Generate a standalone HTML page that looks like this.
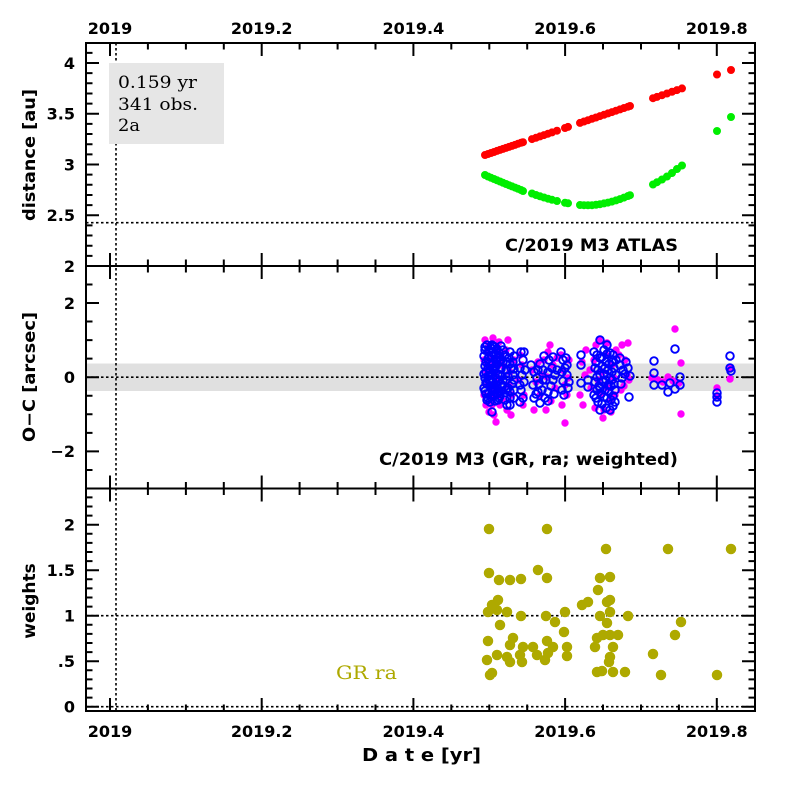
<!DOCTYPE html>
<html><head><meta charset="utf-8"><style>
html,body{margin:0;padding:0;background:#fff;}
svg{display:block;}
.tl{font-family:"DejaVu Sans","Liberation Sans",sans-serif;font-weight:bold;font-size:16px;fill:#000;}
.yl{font-family:"DejaVu Sans","Liberation Sans",sans-serif;font-weight:bold;font-size:17px;fill:#000;}
.sf{font-family:"DejaVu Serif","Liberation Serif",serif;font-size:17px;fill:#000;}
</style></head><body>
<svg width="797" height="797" viewBox="0 0 797 797" xmlns="http://www.w3.org/2000/svg">
<rect width="797" height="797" fill="#fff"/>
<rect x="86" y="363.5" width="669" height="27.5" fill="#e0e0e0"/>
<g stroke="#000" stroke-width="1.6" stroke-dasharray="2.5 2.5" fill="none">
<line x1="116" y1="43" x2="116" y2="711"/>
<line x1="86" y1="222.7" x2="755" y2="222.7"/>
<line x1="86" y1="377.2" x2="755" y2="377.2"/>
<line x1="86" y1="615.7" x2="755" y2="615.7"/>
<line x1="86" y1="706.7" x2="755" y2="706.7"/>
</g>
<rect x="109" y="63" width="115" height="81" fill="#e6e6e6"/>
<text class="sf" x="118" y="88" textLength="79" lengthAdjust="spacingAndGlyphs">0.159 yr</text>
<text class="sf" x="118" y="110" textLength="80" lengthAdjust="spacingAndGlyphs">341 obs.</text>
<text class="sf" x="118" y="131" textLength="22" lengthAdjust="spacingAndGlyphs">2a</text>

<path fill="none" stroke="#00ee00" stroke-width="8" stroke-linecap="round" d="M485 175h0M488 176.5h0M491 177.8h0M494 179h0M497 180.3h0M500 181.5h0M503 182.8h0M506 184h0M509 185.2h0M512 186.4h0M515 187.6h0M518 188.8h0M521 190h0M523 191h0M532 193.5h0M536 195h0M540 196.3h0M544 197.5h0M548 198.7h0M552 199.8h0M557 201h0M565 202.8h0M568 203.3h0M580 205h0M584 205.2h0M588 205.3h0M592 205.2h0M596 204.8h0M600 204.2h0M604 203.4h0M608 202.6h0M612 201.6h0M616 200.4h0M620 199.1h0M624 197.6h0M628 196h0M630 195.2h0M653 184.5h0M657 182.2h0M662 179.5h0M667 176.5h0M672 173h0M677 169h0M682 165.5h0M717 131h0M731 117h0"/>
<path fill="none" stroke="#ff0000" stroke-width="8" stroke-linecap="round" d="M485 155h0M488 154h0M491 153h0M494 152h0M497 150.9h0M500 149.9h0M503 148.9h0M506 147.9h0M509 146.9h0M512 145.9h0M515 144.9h0M518 143.8h0M521 142.8h0M523 142.2h0M532 139.1h0M536 137.8h0M540 136.4h0M544 135.1h0M548 133.7h0M552 132.4h0M557 130.7h0M565 128h0M568 126.9h0M580 122.9h0M584 121.5h0M588 120.2h0M592 118.8h0M596 117.5h0M600 116.1h0M604 114.8h0M608 113.4h0M612 112.1h0M616 110.7h0M620 109.4h0M624 108h0M628 106.7h0M630 106h0M653 98.2h0M657 96.9h0M662 95.2h0M667 93.5h0M672 91.8h0M677 90.1h0M682 88.4h0M717 74.5h0M731 70h0"/>

<path fill="none" stroke="#ff00ff" stroke-width="7.4" stroke-linecap="round" d="M485 340h0M487 352h0M489 345h0M491 360h0M493 338h0M486 370h0M488 385h0M490 398h0M492 405h0M494 415h0M496 422h0M498 395h0M500 380h0M502 365h0M484 395h0M486 405h0M489 412h0M497 350h0M499 342h0M501 355h0M503 390h0M495 375h0M487 365h0M491 390h0M500 405h0M484 360h0M496 362h0M502 400h0M506 350h0M508 340h0M510 372h0M512 395h0M514 360h0M507 410h0M511 415h0M509 385h0M519 380h0M522 365h0M524 395h0M520 355h0M523 405h0M532 370h0M536 382h0M540 395h0M544 360h0M548 352h0M551 401h0M555 388h0M538 362h0M546 410h0M534 410h0M553 365h0M557 358h0M542 375h0M550 345h0M547 377h0M561 355h0M563 370h0M565 385h0M567 395h0M569 360h0M565 423h0M562 405h0M568 378h0M582 362h0M585 375h0M590 370h0M580 395h0M583 405h0M586 350h0M591 388h0M594 360h0M596 345h0M598 380h0M600 395h0M602 372h0M604 410h0M606 355h0M608 388h0M610 400h0M612 365h0M614 378h0M616 350h0M595 408h0M603 418h0M611 412h0M599 340h0M607 343h0M615 395h0M619 355h0M622 345h0M625 360h0M627 375h0M629 380h0M621 390h0M624 386h0M628 343h0M675 329h0M681 363h0M681 414h0M652 378h0M658 380h0M663 382h0M668 377h0M673 381h0M679 383h0M717 388h0M717 396h0M730 379h0M731 368h0"/>
<g fill="none" stroke="#0000ff" stroke-width="1.9">
<circle cx="485" cy="350" r="3.8"/><circle cx="487" cy="345" r="3.8"/><circle cx="489" cy="356" r="3.8"/><circle cx="491" cy="348" r="3.8"/><circle cx="493" cy="352" r="3.8"/><circle cx="495" cy="347" r="3.8"/><circle cx="497" cy="358" r="3.8"/><circle cx="499" cy="353" r="3.8"/><circle cx="501" cy="360" r="3.8"/><circle cx="486" cy="362" r="3.8"/><circle cx="488" cy="368" r="3.8"/><circle cx="490" cy="372" r="3.8"/><circle cx="492" cy="364" r="3.8"/><circle cx="494" cy="370" r="3.8"/><circle cx="496" cy="366" r="3.8"/><circle cx="498" cy="374" r="3.8"/><circle cx="500" cy="368" r="3.8"/><circle cx="502" cy="376" r="3.8"/><circle cx="485" cy="378" r="3.8"/><circle cx="487" cy="384" r="3.8"/><circle cx="489" cy="380" r="3.8"/><circle cx="491" cy="388" r="3.8"/><circle cx="493" cy="382" r="3.8"/><circle cx="495" cy="390" r="3.8"/><circle cx="497" cy="386" r="3.8"/><circle cx="499" cy="392" r="3.8"/><circle cx="501" cy="384" r="3.8"/><circle cx="486" cy="394" r="3.8"/><circle cx="488" cy="398" r="3.8"/><circle cx="490" cy="402" r="3.8"/><circle cx="494" cy="396" r="3.8"/><circle cx="498" cy="400" r="3.8"/><circle cx="492" cy="345" r="3.8"/><circle cx="492" cy="412" r="3.8"/><circle cx="496" cy="355" r="3.8"/><circle cx="484" cy="388" r="3.8"/><circle cx="503" cy="350" r="3.8"/><circle cx="500" cy="396" r="3.8"/><circle cx="486" cy="372" r="3.8"/><circle cx="490" cy="386" r="3.8"/>
<circle cx="485" cy="347" r="3.8"/><circle cx="489" cy="350" r="3.8"/><circle cx="493" cy="346" r="3.8"/><circle cx="497" cy="349" r="3.8"/><circle cx="501" cy="346" r="3.8"/>
<circle cx="484" cy="356" r="3.8"/><circle cx="488" cy="359" r="3.8"/><circle cx="492" cy="356" r="3.8"/><circle cx="496" cy="360" r="3.8"/><circle cx="500" cy="357" r="3.8"/><circle cx="503" cy="362" r="3.8"/>
<circle cx="485" cy="366" r="3.8"/><circle cx="489" cy="364" r="3.8"/><circle cx="493" cy="368" r="3.8"/><circle cx="497" cy="364" r="3.8"/><circle cx="501" cy="369" r="3.8"/>
<circle cx="484" cy="374" r="3.8"/><circle cx="488" cy="376" r="3.8"/><circle cx="492" cy="374" r="3.8"/><circle cx="496" cy="378" r="3.8"/><circle cx="500" cy="375" r="3.8"/><circle cx="503" cy="380" r="3.8"/>
<circle cx="486" cy="383" r="3.8"/><circle cx="490" cy="381" r="3.8"/><circle cx="494" cy="385" r="3.8"/><circle cx="498" cy="382" r="3.8"/><circle cx="502" cy="387" r="3.8"/>
<circle cx="485" cy="391" r="3.8"/><circle cx="489" cy="393" r="3.8"/><circle cx="493" cy="390" r="3.8"/><circle cx="497" cy="394" r="3.8"/><circle cx="501" cy="391" r="3.8"/>
<circle cx="487" cy="400" r="3.8"/><circle cx="491" cy="397" r="3.8"/><circle cx="495" cy="401" r="3.8"/><circle cx="499" cy="398" r="3.8"/>
<circle cx="505" cy="355" r="3.8"/><circle cx="507" cy="362" r="3.8"/><circle cx="509" cy="358" r="3.8"/><circle cx="511" cy="368" r="3.8"/><circle cx="513" cy="375" r="3.8"/><circle cx="506" cy="380" r="3.8"/><circle cx="508" cy="388" r="3.8"/><circle cx="510" cy="392" r="3.8"/><circle cx="512" cy="384" r="3.8"/><circle cx="514" cy="398" r="3.8"/><circle cx="505" cy="400" r="3.8"/><circle cx="507" cy="405" r="3.8"/><circle cx="510" cy="405" r="3.8"/><circle cx="513" cy="362" r="3.8"/><circle cx="506" cy="370" r="3.8"/>
<circle cx="510" cy="352" r="3.8"/><circle cx="514" cy="356" r="3.8"/><circle cx="506" cy="364" r="3.8"/><circle cx="510" cy="364" r="3.8"/><circle cx="514" cy="369" r="3.8"/><circle cx="508" cy="376" r="3.8"/><circle cx="514" cy="380" r="3.8"/><circle cx="506" cy="390" r="3.8"/><circle cx="514" cy="390" r="3.8"/><circle cx="510" cy="398" r="3.8"/>
<circle cx="521" cy="352" r="3.8"/><circle cx="523" cy="360" r="3.8"/><circle cx="520" cy="368" r="3.8"/><circle cx="522" cy="375" r="3.8"/><circle cx="524" cy="382" r="3.8"/><circle cx="521" cy="390" r="3.8"/><circle cx="523" cy="398" r="3.8"/><circle cx="520" cy="402" r="3.8"/><circle cx="525" cy="370" r="3.8"/><circle cx="524" cy="352" r="3.8"/><circle cx="520" cy="385" r="3.8"/>
<circle cx="531" cy="365" r="3.8"/><circle cx="534" cy="372" r="3.8"/><circle cx="537" cy="378" r="3.8"/><circle cx="540" cy="364" r="3.8"/><circle cx="543" cy="370" r="3.8"/><circle cx="546" cy="380" r="3.8"/><circle cx="549" cy="360" r="3.8"/><circle cx="552" cy="368" r="3.8"/><circle cx="555" cy="375" r="3.8"/><circle cx="533" cy="385" r="3.8"/><circle cx="536" cy="394" r="3.8"/><circle cx="539" cy="384" r="3.8"/><circle cx="542" cy="390" r="3.8"/><circle cx="545" cy="398" r="3.8"/><circle cx="548" cy="392" r="3.8"/><circle cx="551" cy="386" r="3.8"/><circle cx="554" cy="394" r="3.8"/><circle cx="540" cy="403" r="3.8"/><circle cx="544" cy="356" r="3.8"/><circle cx="553" cy="357" r="3.8"/><circle cx="557" cy="370" r="3.8"/><circle cx="534" cy="398" r="3.8"/>
<circle cx="538" cy="370" r="3.8"/><circle cx="548" cy="372" r="3.8"/><circle cx="543" cy="380" r="3.8"/><circle cx="553" cy="380" r="3.8"/><circle cx="538" cy="392" r="3.8"/><circle cx="548" cy="401" r="3.8"/>
<circle cx="561" cy="352" r="3.8"/><circle cx="563" cy="360" r="3.8"/><circle cx="565" cy="368" r="3.8"/><circle cx="567" cy="375" r="3.8"/><circle cx="569" cy="382" r="3.8"/><circle cx="562" cy="390" r="3.8"/><circle cx="564" cy="395" r="3.8"/><circle cx="566" cy="358" r="3.8"/><circle cx="568" cy="388" r="3.8"/><circle cx="562" cy="372" r="3.8"/><circle cx="567" cy="365" r="3.8"/><circle cx="563" cy="381" r="3.8"/>
<circle cx="581" cy="355" r="3.8"/><circle cx="581" cy="365" r="3.8"/><circle cx="581" cy="383" r="3.8"/><circle cx="588" cy="380" r="3.8"/><circle cx="588" cy="387" r="3.8"/>
<circle cx="594" cy="352" r="3.8"/><circle cx="596" cy="362" r="3.8"/><circle cx="598" cy="370" r="3.8"/><circle cx="600" cy="358" r="3.8"/><circle cx="602" cy="366" r="3.8"/><circle cx="604" cy="374" r="3.8"/><circle cx="606" cy="362" r="3.8"/><circle cx="608" cy="370" r="3.8"/><circle cx="610" cy="378" r="3.8"/><circle cx="612" cy="372" r="3.8"/><circle cx="614" cy="384" r="3.8"/><circle cx="616" cy="360" r="3.8"/><circle cx="595" cy="382" r="3.8"/><circle cx="597" cy="390" r="3.8"/><circle cx="599" cy="386" r="3.8"/><circle cx="601" cy="394" r="3.8"/><circle cx="603" cy="382" r="3.8"/><circle cx="605" cy="390" r="3.8"/><circle cx="607" cy="398" r="3.8"/><circle cx="609" cy="392" r="3.8"/><circle cx="611" cy="386" r="3.8"/><circle cx="613" cy="396" r="3.8"/><circle cx="615" cy="402" r="3.8"/><circle cx="598" cy="402" r="3.8"/><circle cx="602" cy="404" r="3.8"/><circle cx="606" cy="408" r="3.8"/><circle cx="610" cy="410" r="3.8"/><circle cx="600" cy="340" r="3.8"/><circle cx="607" cy="345" r="3.8"/><circle cx="610" cy="353" r="3.8"/><circle cx="604" cy="350" r="3.8"/><circle cx="613" cy="355" r="3.8"/><circle cx="616" cy="375" r="3.8"/><circle cx="594" cy="395" r="3.8"/>
<circle cx="597" cy="355" r="3.8"/><circle cx="602" cy="357" r="3.8"/><circle cx="607" cy="354" r="3.8"/><circle cx="612" cy="362" r="3.8"/><circle cx="595" cy="368" r="3.8"/><circle cx="600" cy="375" r="3.8"/><circle cx="605" cy="368" r="3.8"/><circle cx="609" cy="364" r="3.8"/><circle cx="614" cy="368" r="3.8"/><circle cx="597" cy="377" r="3.8"/><circle cx="606" cy="380" r="3.8"/><circle cx="612" cy="380" r="3.8"/><circle cx="600" cy="388" r="3.8"/><circle cx="608" cy="385" r="3.8"/><circle cx="615" cy="390" r="3.8"/><circle cx="596" cy="398" r="3.8"/><circle cx="604" cy="397" r="3.8"/><circle cx="611" cy="400" r="3.8"/><circle cx="600" cy="410" r="3.8"/><circle cx="613" cy="406" r="3.8"/>
<circle cx="620" cy="365" r="3.8"/><circle cx="623" cy="370" r="3.8"/><circle cx="626" cy="362" r="3.8"/><circle cx="628" cy="368" r="3.8"/><circle cx="630" cy="376" r="3.8"/><circle cx="622" cy="378" r="3.8"/><circle cx="629" cy="397" r="3.8"/><circle cx="620" cy="358" r="3.8"/><circle cx="625" cy="374" r="3.8"/><circle cx="621" cy="384" r="3.8"/>
<circle cx="654" cy="361" r="3.8"/><circle cx="654" cy="373" r="3.8"/><circle cx="654" cy="385" r="3.8"/><circle cx="662" cy="385" r="3.8"/><circle cx="668" cy="392" r="3.8"/><circle cx="675" cy="349" r="3.8"/><circle cx="680" cy="377" r="3.8"/><circle cx="680" cy="385" r="3.8"/><circle cx="675" cy="389" r="3.8"/><circle cx="670" cy="383" r="3.8"/>
<circle cx="717" cy="393" r="3.8"/><circle cx="717" cy="397" r="3.8"/><circle cx="717" cy="402" r="3.8"/><circle cx="730" cy="356" r="3.8"/><circle cx="730" cy="368" r="3.8"/><circle cx="731" cy="371" r="3.8"/>
</g>

<path fill="none" stroke="#aea900" stroke-width="10.5" stroke-linecap="round" d="M489 529h0M547 529h0M606 549h0M668 549h0M731 549h0M489 573h0M499 580h0M510 580h0M521 579h0M538 570h0M547 578h0M598 590h0M600 578h0M610 577h0M498 600h0M492 605h0M488 612h0M497 610h0M507 612h0M521 616h0M546 616h0M555 622h0M565 612h0M582 605h0M588 602h0M607 602h0M610 600h0M600 616h0M610 612h0M607 623h0M628 616h0M681 622h0M675 635h0M500 625h0M488 641h0M513 638h0M510 645h0M523 647h0M533 647h0M537 655h0M547 641h0M553 647h0M564 632h0M567 647h0M567 656h0M487 660h0M497 655h0M507 657h0M510 662h0M520 655h0M522 662h0M545 660h0M548 653h0M597 638h0M595 647h0M603 635h0M610 635h0M618 635h0M613 647h0M610 657h0M609 662h0M653 654h0M490 675h0M492 673h0M597 672h0M602 671h0M613 672h0M625 672h0M661 675h0M717 675h0"/>

<g stroke="#000" stroke-width="2" fill="none">
<rect x="86" y="43" width="669" height="668"/>
<line x1="86" y1="266" x2="755" y2="266"/>
<line x1="86" y1="488.5" x2="755" y2="488.5"/>
</g>
<g stroke="#000" stroke-width="2" fill="none">
<path d="M110 43v13M147.9 43v6.5M185.9 43v6.5M223.8 43v6.5M261.7 43v13M299.6 43v6.5M337.6 43v6.5M375.5 43v6.5M413.4 43v13M451.3 43v6.5M489.3 43v6.5M527.2 43v6.5M565.1 43v13M603 43v6.5M641 43v6.5M678.9 43v6.5M716.8 43v13"/>
<path d="M110 266v-13M147.9 266v-6.5M185.9 266v-6.5M223.8 266v-6.5M261.7 266v-13M299.6 266v-6.5M337.6 266v-6.5M375.5 266v-6.5M413.4 266v-13M451.3 266v-6.5M489.3 266v-6.5M527.2 266v-6.5M565.1 266v-13M603 266v-6.5M641 266v-6.5M678.9 266v-6.5M716.8 266v-13"/>
<path d="M110 266v13M147.9 266v6.5M185.9 266v6.5M223.8 266v6.5M261.7 266v13M299.6 266v6.5M337.6 266v6.5M375.5 266v6.5M413.4 266v13M451.3 266v6.5M489.3 266v6.5M527.2 266v6.5M565.1 266v13M603 266v6.5M641 266v6.5M678.9 266v6.5M716.8 266v13"/>
<path d="M110 488.5v-13M147.9 488.5v-6.5M185.9 488.5v-6.5M223.8 488.5v-6.5M261.7 488.5v-13M299.6 488.5v-6.5M337.6 488.5v-6.5M375.5 488.5v-6.5M413.4 488.5v-13M451.3 488.5v-6.5M489.3 488.5v-6.5M527.2 488.5v-6.5M565.1 488.5v-13M603 488.5v-6.5M641 488.5v-6.5M678.9 488.5v-6.5M716.8 488.5v-13"/>
<path d="M110 488.5v13M147.9 488.5v6.5M185.9 488.5v6.5M223.8 488.5v6.5M261.7 488.5v13M299.6 488.5v6.5M337.6 488.5v6.5M375.5 488.5v6.5M413.4 488.5v13M451.3 488.5v6.5M489.3 488.5v6.5M527.2 488.5v6.5M565.1 488.5v13M603 488.5v6.5M641 488.5v6.5M678.9 488.5v6.5M716.8 488.5v13"/>
<path d="M110 711v-13M147.9 711v-6.5M185.9 711v-6.5M223.8 711v-6.5M261.7 711v-13M299.6 711v-6.5M337.6 711v-6.5M375.5 711v-6.5M413.4 711v-13M451.3 711v-6.5M489.3 711v-6.5M527.2 711v-6.5M565.1 711v-13M603 711v-6.5M641 711v-6.5M678.9 711v-6.5M716.8 711v-13"/>
</g>
<g stroke="#000" stroke-width="2" fill="none">
<path d="M86 255.85h6.5M86 245.7h6.5M86 235.55h6.5M86 225.4h6.5M86 215.25h13M86 205.1h6.5M86 194.95h6.5M86 184.8h6.5M86 174.65h6.5M86 164.5h13M86 154.35h6.5M86 144.2h6.5M86 134.05h6.5M86 123.9h6.5M86 113.75h13M86 103.6h6.5M86 93.45h6.5M86 83.3h6.5M86 73.15h6.5M86 63h13M86 52.85h6.5"/>
<path d="M755 255.85h-6.5M755 245.7h-6.5M755 235.55h-6.5M755 225.4h-6.5M755 215.25h-13M755 205.1h-6.5M755 194.95h-6.5M755 184.8h-6.5M755 174.65h-6.5M755 164.5h-13M755 154.35h-6.5M755 144.2h-6.5M755 134.05h-6.5M755 123.9h-6.5M755 113.75h-13M755 103.6h-6.5M755 93.45h-6.5M755 83.3h-6.5M755 73.15h-6.5M755 63h-13M755 52.85h-6.5"/>
<path d="M86 284.45h6.5M86 303h13M86 321.55h6.5M86 340.1h6.5M86 358.65h6.5M86 377.2h13M86 395.75h6.5M86 414.3h6.5M86 432.85h6.5M86 451.4h13M86 469.95h6.5"/>
<path d="M755 284.45h-6.5M755 303h-13M755 321.55h-6.5M755 340.1h-6.5M755 358.65h-6.5M755 377.2h-13M755 395.75h-6.5M755 414.3h-6.5M755 432.85h-6.5M755 451.4h-13M755 469.95h-6.5"/>
<path d="M86 706.7h13M86 697.6h6.5M86 688.5h6.5M86 679.4h6.5M86 670.3h6.5M86 661.2h13M86 652.1h6.5M86 643h6.5M86 633.9h6.5M86 624.8h6.5M86 615.7h13M86 606.6h6.5M86 597.5h6.5M86 588.4h6.5M86 579.3h6.5M86 570.2h13M86 561.1h6.5M86 552h6.5M86 542.9h6.5M86 533.8h6.5M86 524.7h13M86 515.6h6.5M86 506.5h6.5M86 497.4h6.5"/>
<path d="M755 706.7h-13M755 697.6h-6.5M755 688.5h-6.5M755 679.4h-6.5M755 670.3h-6.5M755 661.2h-13M755 652.1h-6.5M755 643h-6.5M755 633.9h-6.5M755 624.8h-6.5M755 615.7h-13M755 606.6h-6.5M755 597.5h-6.5M755 588.4h-6.5M755 579.3h-6.5M755 570.2h-13M755 561.1h-6.5M755 552h-6.5M755 542.9h-6.5M755 533.8h-6.5M755 524.7h-13M755 515.6h-6.5M755 506.5h-6.5M755 497.4h-6.5"/>
</g>

<g class="tl" text-anchor="middle">
<text x="110" y="34">2019</text><text x="261.7" y="34">2019.2</text><text x="413.4" y="34">2019.4</text><text x="565.1" y="34">2019.6</text><text x="716.8" y="34">2019.8</text>
<text x="110" y="737">2019</text><text x="261.7" y="737">2019.2</text><text x="413.4" y="737">2019.4</text><text x="565.1" y="737">2019.6</text><text x="716.8" y="737">2019.8</text>
</g>
<g class="tl" text-anchor="end">
<text x="75" y="68.8">4</text><text x="75" y="119.6">3.5</text><text x="75" y="170.3">3</text><text x="75" y="221">2.5</text><text x="75" y="271.8">2</text>
<text x="75" y="308.8">2</text><text x="75" y="383">0</text><text x="75" y="457.2">−2</text>
<text x="75" y="530.5">2</text><text x="75" y="576">1.5</text><text x="75" y="621.5">1</text><text x="75" y="667">.5</text><text x="75" y="712.5">0</text>
</g>
<text class="yl" transform="translate(35,155) rotate(-90)" text-anchor="middle" textLength="132" lengthAdjust="spacingAndGlyphs">distance [au]</text>
<text class="yl" transform="translate(35,377) rotate(-90)" text-anchor="middle" textLength="130" lengthAdjust="spacingAndGlyphs">O−C [arcsec]</text>
<text class="yl" transform="translate(35,601) rotate(-90)" text-anchor="middle">weights</text>
<text class="yl" x="362" y="761" textLength="119" lengthAdjust="spacingAndGlyphs" style="font-size:18px">D a t e [yr]</text>
<text class="yl" x="505" y="251" textLength="173" lengthAdjust="spacingAndGlyphs">C/2019 M3 ATLAS</text>
<text class="yl" x="379" y="465" textLength="299" lengthAdjust="spacingAndGlyphs">C/2019 M3 (GR, ra; weighted)</text>
<text class="sf" x="336" y="679" textLength="61" lengthAdjust="spacingAndGlyphs" style="font-size:19px;fill:#aea900">GR ra</text>
</svg>
</body></html>
